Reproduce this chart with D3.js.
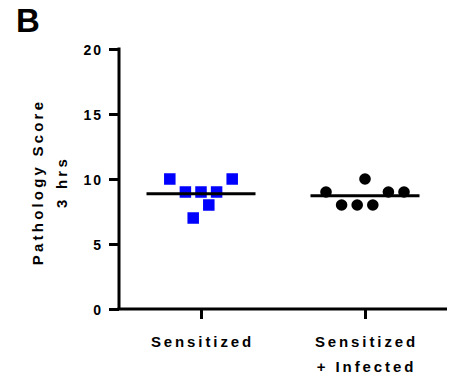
<!DOCTYPE html>
<html><head><meta charset="utf-8">
<script src="https://cdn.jsdelivr.net/npm/d3@7"></script>
<style>body{margin:0;background:#fff}svg{display:block}</style>
</head><body><svg id="c" width="450" height="381"></svg>
<script>
const categories = ["Sensitized", "Sensitized\n+ Infected"];
const sensitizedValues = [10, 9, 7, 9, 8, 9, 10];
const sensitizedJitter = [-4, -2, -1, 0, 1, 2, 4];
const infectedValues = [9, 8, 8, 10, 8, 9, 9];
const infectedJitter = [-5, -3, -1, 0, 1, 3, 5];
const yTicks = [0, 5, 10, 15, 20];
const yTitle = ["Pathology Score", "3 hrs"];
const panelLabel = "B";

const svg = d3.select("#c");
const font = "'Liberation Sans', Arial, sans-serif";
const x = d3.scalePoint().domain(categories).range([119, 447]).padding(0.5);
const y = d3.scaleLinear().domain([0, 20]).range([309, 49]);
const jit = d3.scaleLinear().domain([-1, 1]).range([-7.8, 7.8]);

// axes
const yAxis = svg.append("g").attr("transform", "translate(119,0)")
  .call(d3.axisLeft(y).tickValues(yTicks).tickSize(10).tickPadding(6));
const xAxis = svg.append("g").attr("transform", "translate(0,309)")
  .call(d3.axisBottom(x).tickSize(10).tickFormat(""));
[yAxis, xAxis].forEach(g => {
  g.select(".domain").attr("stroke", "#000").attr("stroke-width", 3);
  g.selectAll(".tick line").attr("stroke", "#000").attr("stroke-width", 3);
});
yAxis.select(".domain").attr("d", "M0,47.5V309");
xAxis.select(".domain").attr("d", "M117.5,0H447");
yAxis.selectAll(".tick text").attr("font-family", font).attr("font-weight", "bold")
  .attr("font-size", 14).attr("letter-spacing", 2).attr("fill", "#000").attr("dy", "0.36em");

// x labels
categories.forEach(c => {
  const lines = c.split("\n");
  lines.forEach((l, i) => {
    svg.append("text").attr("x", x(c) + 1.5).attr("y", 346.5 + i * 25.5)
      .attr("text-anchor", "middle").attr("font-family", font).attr("font-weight", "bold")
      .attr("font-size", 15).attr("letter-spacing", 2.9).text(l);
  });
});

// y title
const yt = svg.append("text").attr("transform", "translate(0,182) rotate(-90)")
  .attr("text-anchor", "middle").attr("font-family", font).attr("font-weight", "bold")
  .attr("font-size", 15).attr("letter-spacing", 3.2);
yt.append("tspan").attr("x", 0).attr("y", 42.5).text(yTitle[0]);
yt.append("tspan").attr("x", 0).attr("y", 67).text(yTitle[1]);

// panel label
svg.append("text").attr("x", 16).attr("y", 32).attr("font-family", font)
  .attr("font-weight", "bold").attr("font-size", 33).text(panelLabel);

// points
const sq = 11.5;
svg.append("g").selectAll("rect").data(sensitizedValues).join("rect")
  .attr("x", (d, i) => x(categories[0]) + jit(sensitizedJitter[i]) - sq / 2)
  .attr("y", d => y(d) - sq / 2).attr("width", sq).attr("height", sq).attr("fill", "#0000ff");
svg.append("g").selectAll("circle").data(infectedValues).join("circle")
  .attr("cx", (d, i) => x(categories[1]) + jit(infectedJitter[i]))
  .attr("cy", d => y(d)).attr("r", 5.8).attr("fill", "#000");

// mean lines
[[categories[0], sensitizedValues], [categories[1], infectedValues]].forEach(([c, v]) => {
  const m = d3.mean(v);
  svg.append("line").attr("x1", x(c) - 54.5).attr("x2", x(c) + 54.5)
    .attr("y1", y(m)).attr("y2", y(m)).attr("stroke", "#000").attr("stroke-width", 3);
});
</script></body></html>
